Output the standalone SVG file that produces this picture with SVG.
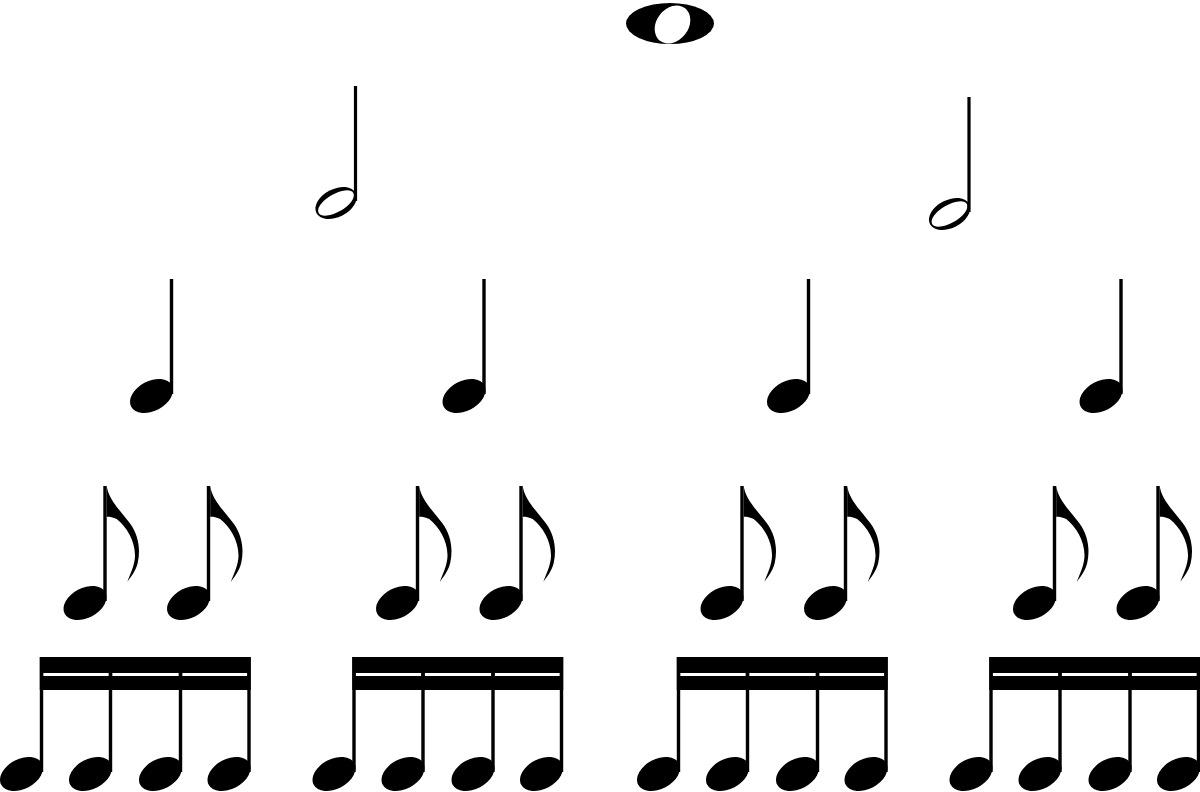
<svg xmlns="http://www.w3.org/2000/svg" width="1200" height="792" viewBox="0 0 1200 792">
<style>
.ink{fill:#000}
.hole{fill:#fff}
</style>
<defs>
<g id="fhead"><ellipse class="ink" cx="-20" cy="117" rx="23" ry="15" transform="rotate(-28 -20 117)"/></g>
<g id="quarter"><use href="#fhead"/><rect class="ink" x="-1.7" y="0" width="3.4" height="115"/></g>
<path id="flag" class="ink" d="M1.7,0 C3.7,14 15.7,25 24.7,37 C33.7,49 35.7,64 32.7,77 C30.7,85 25.7,91 22.3,96 C25.7,87 30.2,78 30,69 C29.7,54 21.7,41 11.7,33 C7.7,31 3.7,30.5 1.7,30.7 Z"/>
<g id="eighth"><use href="#quarter"/><use href="#flag"/></g>
<g id="half">
<ellipse class="ink" cx="-19.5" cy="117" rx="22" ry="14" transform="rotate(-27 -19.5 117)"/>
<ellipse class="hole" cx="-19.5" cy="117" rx="20" ry="9" transform="rotate(-30 -19.5 117)"/>
<rect class="ink" x="-1.6" y="0" width="3.2" height="115"/>
</g>
<g id="sixteenth">
<rect class="ink" x="-1.7" y="0" width="210.9" height="33"/>
<rect class="hole" x="1.7" y="16" width="65.6" height="3"/>
<rect class="hole" x="70.7" y="16" width="66.6" height="3"/>
<rect class="hole" x="140.7" y="16" width="65.1" height="3"/>
<use href="#quarter"/>
<use href="#quarter" x="69"/>
<use href="#quarter" x="139"/>
<use href="#quarter" x="207.5"/>
</g>
</defs>

<g id="whole-note">
<ellipse class="ink" cx="670" cy="23.5" rx="44" ry="20.5"/>
<ellipse class="hole" cx="672.5" cy="24.5" rx="16" ry="20.5" transform="rotate(38 672.5 24.5)"/>
</g>

<g id="half-notes">
<g id="half-1" transform="translate(355.5 86)"><use href="#half"/></g>
<g id="half-2" transform="translate(969 97)"><use href="#half"/></g>
</g>

<g id="quarter-notes">
<g id="quarter-1" transform="translate(171.5 279)"><use href="#quarter"/></g>
<g id="quarter-2" transform="translate(484 279)"><use href="#quarter"/></g>
<g id="quarter-3" transform="translate(808.5 279)"><use href="#quarter"/></g>
<g id="quarter-4" transform="translate(1121 279)"><use href="#quarter"/></g>
</g>

<g id="eighth-notes">
<g id="eighth-1" transform="translate(105 486)"><use href="#eighth"/><use href="#eighth" x="103.5"/></g>
<g id="eighth-2" transform="translate(417.5 486)"><use href="#eighth"/><use href="#eighth" x="103.5"/></g>
<g id="eighth-3" transform="translate(742 486)"><use href="#eighth"/><use href="#eighth" x="103.5"/></g>
<g id="eighth-4" transform="translate(1054.5 486)"><use href="#eighth"/><use href="#eighth" x="103.5"/></g>
</g>

<g id="sixteenth-notes">
<g id="sixteenth-1" transform="translate(41.5 657)"><use href="#sixteenth"/></g>
<g id="sixteenth-2" transform="translate(354 657)"><use href="#sixteenth"/></g>
<g id="sixteenth-3" transform="translate(678.5 657)"><use href="#sixteenth"/></g>
<g id="sixteenth-4" transform="translate(991 657)"><use href="#sixteenth"/></g>
</g>
</svg>
